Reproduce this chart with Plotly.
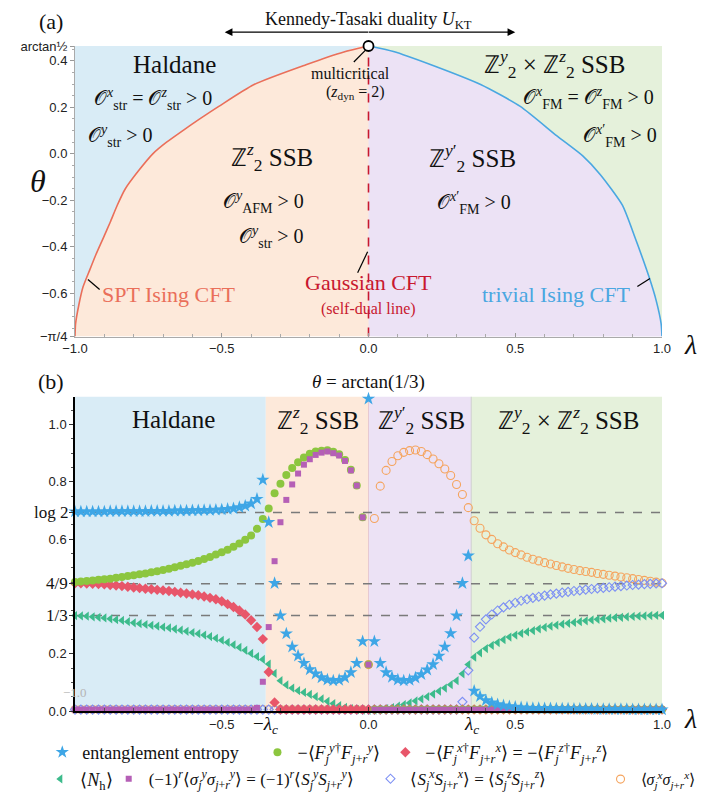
import math
import plotly.graph_objects as go

# ---------------- layout helpers (pixel -> paper) ----------------
W, H = 722, 802
ML, MR, MT, MB = 62, 68, 38, 91
PW = W - ML - MR
PH = H - MT - MB


def px(x):
    return (x - ML) / PW


def py(y):
    return (H - MB - y) / PH


SERIF = "Liberation Serif"
SANS = "Liberation Sans"

# ---------------- panel (a) data ----------------
THETA_TOP = math.atan(0.5)
THETA_BOT = -math.pi / 4

# SPT Ising CFT boundary (orange curve), from lambda=-1 up to the multicritical point
spt_lam = [-1.0, -0.998, -0.987, -0.973, -0.950, -0.929, -0.903, -0.880, -0.856,
           -0.828, -0.785, -0.735, -0.688, -0.635, -0.575, -0.510, -0.390, -0.213, -0.084, 0.0]
spt_theta = [-0.785, -0.730, -0.650, -0.574, -0.500, -0.434, -0.360, -0.294, -0.221,
             -0.149, -0.075, 0.000, 0.050, 0.098, 0.150, 0.204, 0.298, 0.383, 0.438, 0.4636]

# trivial Ising CFT boundary (blue curve), from the multicritical point down to lambda=1
triv_lam = [0.0, 0.085, 0.213, 0.382, 0.517, 0.642, 0.730, 0.790, 0.865,
            0.908, 0.956, 0.980, 0.997, 1.0]
triv_theta = [0.4636, 0.440, 0.383, 0.298, 0.204, 0.077, -0.009, -0.090, -0.221,
              -0.360, -0.530, -0.630, -0.730, -0.785]

# ---------------- panel (b) data ----------------
LAMBDA_C = 0.35
lam = [round(-1 + 0.02 * i, 2) for i in range(101)]

entropy = [
    0.696, 0.696, 0.696, 0.696, 0.696, 0.696, 0.697, 0.697, 0.697, 0.697,
    0.697, 0.697, 0.697, 0.698, 0.698, 0.698, 0.698, 0.699, 0.699, 0.699,
    0.700, 0.700, 0.701, 0.701, 0.702, 0.703, 0.705, 0.707, 0.711, 0.716,
    0.724, 0.740, 0.807, 0.659, 0.446, 0.333, 0.270, 0.224, 0.193, 0.167,
    0.145, 0.130, 0.117, 0.109, 0.106, 0.108, 0.117, 0.135, 0.167, 0.243,
    1.090,
    0.243, 0.167, 0.135, 0.118, 0.109, 0.106, 0.108, 0.116, 0.128, 0.144,
    0.163, 0.192, 0.224, 0.271, 0.333, 0.446, 0.542, 0.070, 0.051, 0.037,
    0.029, 0.023, 0.019, 0.016, 0.014, 0.012, 0.011, 0.010, 0.010, 0.009,
    0.009, 0.008, 0.008, 0.008, 0.007, 0.007, 0.007, 0.007, 0.006, 0.006,
    0.006, 0.006, 0.006, 0.006, 0.005, 0.005, 0.005, 0.005, 0.005, 0.005,
]

fy_corr = [
    0.450, 0.452, 0.454, 0.456, 0.458, 0.460, 0.462, 0.465, 0.468, 0.471,
    0.474, 0.477, 0.480, 0.484, 0.488, 0.492, 0.497, 0.502, 0.507, 0.512,
    0.518, 0.524, 0.531, 0.538, 0.546, 0.554, 0.563, 0.573, 0.585, 0.598,
    0.613, 0.636, 0.670, 0.707, 0.760, 0.793, 0.824, 0.848, 0.868, 0.885,
    0.898, 0.906, 0.909, 0.910, 0.905, 0.896, 0.876, 0.842, 0.787, 0.676,
    0.162,
] + [0.005] * 50

fx_corr = [
    0.446, 0.446, 0.445, 0.444, 0.443, 0.442, 0.440, 0.438, 0.436, 0.434,
    0.431, 0.429, 0.427, 0.425, 0.423, 0.421, 0.419, 0.416, 0.413, 0.410,
    0.407, 0.404, 0.400, 0.395, 0.390, 0.383, 0.373, 0.363, 0.351, 0.337,
    0.317, 0.293, 0.251, 0.136, 0.030,
] + [0.005] * 66

n_holon = [
    0.333, 0.332, 0.331, 0.329, 0.327, 0.325, 0.322, 0.319, 0.316, 0.312,
    0.308, 0.305, 0.302, 0.299, 0.296, 0.293, 0.290, 0.286, 0.282, 0.278,
    0.274, 0.270, 0.265, 0.260, 0.254, 0.247, 0.240, 0.231, 0.222, 0.212,
    0.201, 0.190, 0.180, 0.164, 0.131, 0.106, 0.091, 0.080, 0.071, 0.065,
    0.058, 0.050, 0.042, 0.034, 0.026, 0.019, 0.013, 0.008, 0.005, 0.003,
    0.002,
    0.003, 0.005, 0.008, 0.012, 0.017, 0.022, 0.028, 0.035, 0.042, 0.050,
    0.059, 0.069, 0.080, 0.092, 0.106, 0.130, 0.162, 0.188, 0.203, 0.218,
    0.229, 0.239, 0.249, 0.258, 0.265, 0.271, 0.276, 0.281, 0.287, 0.292,
    0.296, 0.300, 0.303, 0.306, 0.309, 0.312, 0.315, 0.318, 0.320, 0.322,
    0.324, 0.326, 0.327, 0.329, 0.330, 0.331, 0.332, 0.333, 0.334, 0.334,
]

sy_corr = [0.005] * 31 + [
    0.011, 0.102, 0.293, 0.523, 0.659, 0.737, 0.791, 0.829, 0.860, 0.879,
    0.894, 0.902, 0.906, 0.900, 0.892, 0.873, 0.840, 0.787, 0.676, 0.162,
] + [0.005] * 50

sx_corr = [0.005] * 66 + [
    0.032, 0.142, 0.256, 0.294, 0.320, 0.337, 0.351, 0.362, 0.371, 0.378,
    0.385, 0.390, 0.395, 0.399, 0.403, 0.407, 0.410, 0.413, 0.416, 0.419,
    0.421, 0.424, 0.426, 0.428, 0.430, 0.432, 0.434, 0.436, 0.438, 0.440,
    0.441, 0.443, 0.444, 0.445, 0.446,
]

sigx_corr = [0.005] * 50 + [
    0.162,
    0.672, 0.785, 0.840, 0.871, 0.891, 0.903, 0.909, 0.911, 0.906, 0.895,
    0.880, 0.863, 0.845, 0.822, 0.791, 0.756, 0.710, 0.664, 0.638, 0.615,
    0.599, 0.584, 0.573, 0.562, 0.553, 0.545, 0.537, 0.530, 0.524, 0.518,
    0.513, 0.508, 0.503, 0.498, 0.494, 0.490, 0.487, 0.484, 0.480, 0.477,
    0.474, 0.471, 0.468, 0.465, 0.462, 0.459, 0.456, 0.453, 0.450, 0.447,
]

ref_levels = [math.log(2), 4 / 9, 1 / 3]
ref_labels = ["log 2", "4/9", "1/3"]

# ---------------- colours ----------------
C_HAL = "#d9ecf6"
C_ZZ = "#fde9da"
C_ZY = "#ece2f5"
C_ZZY = "#e5f1db"
C_SPT = "#ea6f5a"
C_TRIV = "#4aa7e1"
C_GAUSS = "#c8182f"

fig = go.Figure()

# ---------------- panel (a) regions ----------------
region_fill = [
    (spt_lam + [-1.0], spt_theta + [THETA_TOP], C_HAL),
    (spt_lam + [0.0], spt_theta + [THETA_BOT], C_ZZ),
    (triv_lam + [0.0], triv_theta + [THETA_BOT], C_ZY),
    (triv_lam + [1.0], triv_theta + [THETA_TOP], C_ZZY),
]
for xs, ys, col in region_fill:
    fig.add_trace(go.Scatter(x=xs, y=ys, fill="toself", fillcolor=col, mode="lines",
                             line=dict(width=0, color=col, shape="spline", smoothing=0.6),
                             showlegend=False, hoverinfo="skip", xaxis="x", yaxis="y"))

fig.add_trace(go.Scatter(x=spt_lam, y=spt_theta, mode="lines",
                         line=dict(color=C_SPT, width=1.6, shape="spline", smoothing=0.6),
                         showlegend=False, hoverinfo="skip", xaxis="x", yaxis="y"))
fig.add_trace(go.Scatter(x=triv_lam, y=triv_theta, mode="lines",
                         line=dict(color=C_TRIV, width=1.6, shape="spline", smoothing=0.6),
                         showlegend=False, hoverinfo="skip", xaxis="x", yaxis="y"))
fig.add_trace(go.Scatter(x=[0, 0], y=[THETA_BOT, THETA_TOP], mode="lines",
                         line=dict(color=C_GAUSS, width=1.6, dash="dash"),
                         showlegend=False, hoverinfo="skip", xaxis="x", yaxis="y"))
fig.add_trace(go.Scatter(x=[0], y=[THETA_TOP], mode="markers",
                         marker=dict(symbol="circle", size=10, color="white",
                                     line=dict(color="black", width=1.8)),
                         showlegend=False, hoverinfo="skip", cliponaxis=False,
                         xaxis="x", yaxis="y"))

# ---------------- panel (b) ----------------
for v in ref_levels:
    fig.add_trace(go.Scatter(x=[lam[0], lam[-1]], y=[v, v], mode="lines",
                             line=dict(color="#7a7a7a", width=1.6, dash="dash"),
                             showlegend=False, hoverinfo="skip", xaxis="x2", yaxis="y2"))

L_ENT = "entanglement entropy"
L_FY = "−⟨<i>F</i><sub><i>j</i></sub><sup><i>y</i>†</sup><i>F</i><sub><i>j</i>+<i>r</i></sub><sup><i>y</i></sup>⟩"
L_FX = ("−⟨<i>F</i><sub><i>j</i></sub><sup><i>x</i>†</sup><i>F</i><sub><i>j</i>+<i>r</i></sub><sup><i>x</i></sup>⟩"
        " = −⟨<i>F</i><sub><i>j</i></sub><sup><i>z</i>†</sup><i>F</i><sub><i>j</i>+<i>r</i></sub><sup><i>z</i></sup>⟩")
L_NH = "⟨<i>N</i><sub>h</sub>⟩"
L_SY = ("(−1)<sup><i>r</i></sup>⟨<i>σ</i><sub><i>j</i></sub><sup><i>y</i></sup><i>σ</i><sub><i>j</i>+<i>r</i></sub><sup><i>y</i></sup>⟩"
        " = (−1)<sup><i>r</i></sup>⟨<i>S</i><sub><i>j</i></sub><sup><i>y</i></sup><i>S</i><sub><i>j</i>+<i>r</i></sub><sup><i>y</i></sup>⟩")
L_SX = ("⟨<i>S</i><sub><i>j</i></sub><sup><i>x</i></sup><i>S</i><sub><i>j</i>+<i>r</i></sub><sup><i>x</i></sup>⟩"
        " = ⟨<i>S</i><sub><i>j</i></sub><sup><i>z</i></sup><i>S</i><sub><i>j</i>+<i>r</i></sub><sup><i>z</i></sup>⟩")
L_SIG = "⟨<i>σ</i><sub><i>j</i></sub><sup><i>x</i></sup><i>σ</i><sub><i>j</i>+<i>r</i></sub><sup><i>x</i></sup>⟩"

# drawing order (bottom -> top); each legend entry gets its own legend box
series = [
    # (values, name, symbol, size, color, legend id)
    (sigx_corr, L_SIG, "circle-open", 8, "#f5a45e", "legend7"),
    (sx_corr, L_SX, "diamond-open", 7, "#7d90f4", "legend6"),
    (n_holon, L_NH, "triangle-left", 8, "#3dbb8c", "legend4"),
    (fx_corr, L_FX, "diamond", 8, "#e8566a", "legend3"),
    (fy_corr, L_FY, "circle", 8, "#8cc63f", "legend2"),
    (sy_corr, L_SY, "square", 6, "#b55fb6", "legend5"),
    (entropy, L_ENT, "star", 10, "#3ea6e6", "legend"),
]
for vals, name, sym, size, col, lg in series:
    mk = dict(symbol=sym, size=size, color=col)
    if sym.endswith("open"):
        mk["line"] = dict(color=col, width=1.1)
    else:
        mk["line"] = dict(width=0)
    fig.add_trace(go.Scatter(x=lam, y=vals, mode="markers", marker=mk, name=name,
                             legend=lg, cliponaxis=False, xaxis="x2", yaxis="y2"))

# background phases in panel (b)
edges = [-1.0, -LAMBDA_C, 0.0, LAMBDA_C, 1.0]
cols_b = [C_HAL, C_ZZ, C_ZY, C_ZZY]
shapes = []
for i, c in enumerate(cols_b):
    shapes.append(dict(type="rect", xref="x2", yref="y2 domain", x0=edges[i], x1=edges[i + 1],
                       y0=0, y1=1, fillcolor=c, line=dict(width=0), layer="below"))
for e, c in [(0.0, "#e6c9d2"), (LAMBDA_C, "#cfcfcf")]:
    shapes.append(dict(type="line", xref="x2", yref="y2 domain", x0=e, x1=e, y0=0, y1=1,
                       line=dict(color=c, width=1), layer="below"))

# leader lines in panel (a)
leaders = [
    ((-0.010, 0.446), (-0.050, 0.395)),
    ((-0.956, -0.540), (-0.916, -0.583)),
    ((-0.003, -0.421), (-0.037, -0.511)),
    ((0.959, -0.536), (0.916, -0.570)),
]
for (x0, y0), (x1, y1) in leaders:
    shapes.append(dict(type="line", xref="x", yref="y", x0=x0, y0=y0, x1=x1, y1=y1,
                       line=dict(color="black", width=1.2)))

ann = []


def txt(x, y, s, size, color="#111", xref="x", yref="y", family=SERIF, xanchor="center", **kw):
    ann.append(dict(x=x, y=y, xref=xref, yref=yref, text=s, showarrow=False,
                    font=dict(family=family, size=size, color=color),
                    xanchor=xanchor, yanchor="middle", **kw))


O = "𝒪"
# panel (a) texts
txt(px(38), py(13), "(a)", 22, xref="paper", yref="paper")
txt(0.5, py(12), "Kennedy-Tasaki duality <i>U</i><sub>KT</sub>", 18, xref="paper", yref="paper")
txt(-0.66, 0.385, "Haldane", 25)
txt(-0.735, 0.236, O + "<sup><i>x</i></sup><sub>str</sub> = " + O + "<sup><i>z</i></sup><sub>str</sub> > 0", 20)
txt(-0.845, 0.078, O + "<sup><i>y</i></sup><sub>str</sub> > 0", 20)
txt(-0.062, 0.346, "multicritical", 16)
txt(-0.045, 0.262, "(<i>z</i><sub>dyn</sub> = 2)", 16)
txt(-0.33, -0.015, "ℤ<sup><i>z</i></sup><sub>2</sub> SSB", 25)
txt(-0.357, -0.209, O + "<sup><i>y</i></sup><sub>AFM</sub> > 0", 20)
txt(-0.33, -0.357, O + "<sup><i>y</i></sup><sub>str</sub> > 0", 20)
txt(-0.68, -0.604, "SPT Ising CFT", 22, color=C_SPT)
txt(0.0, -0.553, "Gaussian CFT", 22, color=C_GAUSS)
txt(0.0, -0.668, "(self-dual line)", 16, color=C_GAUSS)
txt(0.635, 0.387, "ℤ<sup><i>y</i></sup><sub>2</sub> × ℤ<sup><i>z</i></sup><sub>2</sub> SSB", 25)
txt(0.75, 0.238, O + "<sup><i>x</i></sup><sub>FM</sub> = " + O + "<sup><i>z</i></sup><sub>FM</sub> > 0", 20)
txt(0.858, 0.077, O + "<sup><i>x</i>′</sup><sub>FM</sub> > 0", 20)
txt(0.355, -0.02, "ℤ<sup><i>y</i>′</sup><sub>2</sub> SSB", 25)
txt(0.36, -0.213, O + "<sup><i>x</i>′</sup><sub>FM</sub> > 0", 20)
txt(0.64, -0.604, "trivial Ising CFT", 22, color=C_TRIV)
txt(px(25), py(175), "<i>θ</i>", 32, xref="paper", yref="paper")
txt(px(683), py(340), "<i>λ</i>", 28, xref="paper", yref="paper")

# Kennedy-Tasaki arrows
for tip, off in [(213, 145), (506, -148)]:
    ann.append(dict(x=px(tip), y=py(24), xref="paper", yref="paper", ax=off, ay=0,
                    text="", showarrow=True, arrowhead=2, arrowsize=1.1, arrowwidth=1.4,
                    arrowcolor="black"))

# panel (b) texts
txt(px(38), py(378), "(b)", 22, xref="paper", yref="paper")
txt(0.5, py(378), "<i>θ</i> = arctan(1/3)", 19, xref="paper", yref="paper")
txt(-0.665, 1.017, "Haldane", 25, xref="x2", yref="y2")
txt(-0.172, 1.017, "ℤ<sup><i>z</i></sup><sub>2</sub> SSB", 25, xref="x2", yref="y2")
txt(0.179, 1.017, "ℤ<sup><i>y</i>′</sup><sub>2</sub> SSB", 25, xref="x2", yref="y2")
txt(0.68, 1.017, "ℤ<sup><i>y</i></sup><sub>2</sub> × ℤ<sup><i>z</i></sup><sub>2</sub> SSB", 25, xref="x2", yref="y2")
for v, s in zip(ref_levels, ref_labels):
    txt(px(57), v, s, 17, xref="paper", yref="y2", xanchor="right")
txt(-1.0, 0.066, "−1.0", 13, color="#b5b5b5", xref="x2", yref="y2", family=SERIF)
txt(-LAMBDA_C, py(725), "−<i>λ</i><sub><i>c</i></sub>", 19, xref="x2", yref="paper")
txt(LAMBDA_C, py(725), "<i>λ</i><sub><i>c</i></sub>", 19, xref="x2", yref="paper")
txt(px(683), py(719), "<i>λ</i>", 28, xref="paper", yref="paper")

tickfont = dict(family=SANS, size=13, color="#222")

# legend boxes: (id, left pixel, row pixel, font size)
legend_slots = [
    ("legend", 29, 753, 18),
    ("legend2", 246, 753, 18),
    ("legend3", 375, 753, 18),
    ("legend4", 27, 780, 18),
    ("legend5", 96, 780, 17),
    ("legend6", 360, 780, 17),
    ("legend7", 592, 780, 16),
]
legend_layout = {}
for lid, lx, ly, fs in legend_slots:
    legend_layout[lid] = dict(orientation="h", x=px(lx), y=py(ly), xanchor="left",
                              yanchor="middle", font=dict(family=SERIF, size=fs, color="#111"),
                              bgcolor="rgba(0,0,0,0)", itemwidth=30)

fig.update_layout(
    width=W, height=H,
    margin=dict(l=ML, r=MR, t=MT, b=MB),
    paper_bgcolor="white", plot_bgcolor="white",
    font=dict(family=SERIF, size=16, color="#111"),
    shapes=shapes, annotations=ann,
    xaxis=dict(domain=[0, 1], anchor="y", range=[-1, 1], showgrid=False, zeroline=False,
               tickvals=[-1, -0.5, 0, 0.5, 1], ticktext=["−1.0", "−0.5", "0.0", "0.5", "1.0"],
               ticks="inside", ticklen=4, tickcolor="#999", showline=True, linecolor="#aaa",
               minor=dict(dtick=0.1, ticklen=3, ticks="inside", tickcolor="#aaa"),
               tickfont=tickfont),
    yaxis=dict(domain=[py(332), 1], anchor="x", range=[THETA_BOT, THETA_TOP], showgrid=False,
               zeroline=False,
               tickvals=[THETA_BOT, -0.6, -0.4, -0.2, 0.0, 0.2, 0.4, THETA_TOP],
               ticktext=["−π/4", "−0.6", "−0.4", "−0.2", "0.0", "0.2", "0.4", "arctan½"],
               ticks="outside", ticklen=4, tickcolor="#999", showline=True, linecolor="#aaa",
               minor=dict(dtick=0.05, ticklen=2, ticks="outside", tickcolor="#aaa"),
               tickfont=tickfont),
    xaxis2=dict(domain=[0, 1], anchor="y2", range=[-1, 1], showgrid=False, zeroline=False,
                tickvals=[-1, -0.5, 0, 0.5, 1, -LAMBDA_C, LAMBDA_C],
                ticktext=["", "−0.5", "0.0", "0.5", "1.0", "", ""],
                ticks="inside", ticklen=4, tickcolor="#333", showline=True, linecolor="black",
                linewidth=2, minor=dict(dtick=0.1, ticklen=3, ticks="inside", tickcolor="#555"),
                tickfont=tickfont),
    yaxis2=dict(domain=[0, py(393)], anchor="x2", range=[0, 1.097], showgrid=False, zeroline=False,
                tickvals=[0, 0.2, 0.6, 0.8, 1.0] + ref_levels,
                ticktext=["0.0", "0.2", "0.6", "0.8", "1.0", "", "", ""],
                ticks="outside", ticklen=4, tickcolor="#333", showline=True, linecolor="black",
                linewidth=1.5, minor=dict(dtick=0.05, ticklen=2, ticks="outside", tickcolor="#555"),
                tickfont=tickfont),
    **legend_layout,
)

fig.write_html("out.html")
